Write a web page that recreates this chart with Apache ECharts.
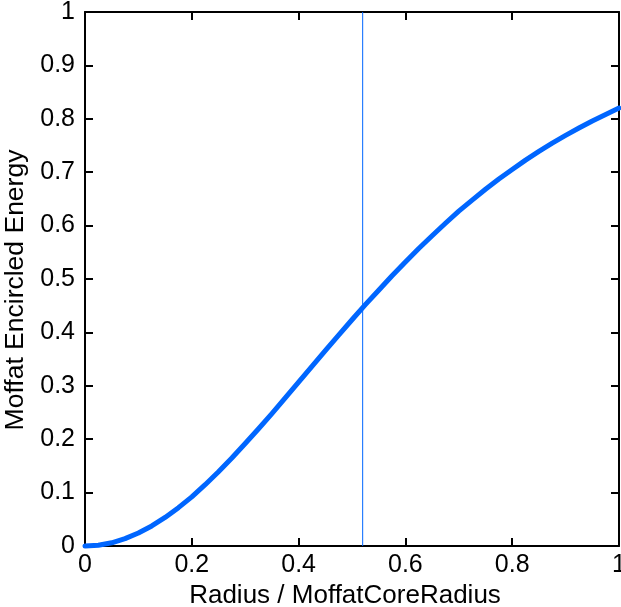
<!DOCTYPE html>
<html>
<head>
<meta charset="utf-8">
<script src="https://cdn.jsdelivr.net/npm/echarts@6/dist/echarts.min.js"></script>
<style>
  html, body { margin: 0; padding: 0; background: #fff; }
  #chart { width: 621px; height: 607px; }
</style>
</head>
<body>
<div id="chart"></div>
<script>
// radius / core radius
var radius = [0, 0.025, 0.05, 0.075, 0.1, 0.125, 0.15, 0.175, 0.2, 0.225, 0.25, 0.275,
              0.3, 0.325, 0.35, 0.375, 0.4, 0.425, 0.45, 0.475, 0.5, 0.525, 0.55, 0.575,
              0.6, 0.625, 0.65, 0.675, 0.7, 0.725, 0.75, 0.775, 0.8, 0.825, 0.85, 0.875,
              0.9, 0.925, 0.95, 0.975, 1.0];
var energy = [0, 0.0015, 0.006, 0.0138, 0.0243, 0.0376, 0.0535, 0.0718, 0.092, 0.1148, 0.139, 0.1648,
              0.192, 0.2196, 0.248, 0.2774, 0.307, 0.3364, 0.366, 0.395, 0.4237, 0.4519, 0.479, 0.5062,
              0.532, 0.5571, 0.581, 0.6044, 0.627, 0.6478, 0.668, 0.6871, 0.705, 0.7226, 0.739, 0.7544,
              0.769, 0.7828, 0.796, 0.808, 0.820];
var markerX = 0.52;     // vertical marker line
var markerSpan = [0, 1];

var fontName = 'Liberation Sans';
var blue = '#0066ff';

var curve = [];
for (var i = 0; i < radius.length; i++) {
    curve.push([radius[i], energy[i]]);
}

var chart = echarts.init(document.getElementById('chart'));

function axisBase(extra) {
    var a = {
        type: 'value',
        min: 0,
        max: 1,
        interval: 0.1,
        splitLine: {show: false},
        axisLine: {show: true, onZero: false, lineStyle: {color: '#000', width: 2}},
        axisTick: {show: true, inside: true, length: 8, lineStyle: {color: '#000', width: 2}},
        axisLabel: {show: false}
    };
    for (var k in extra) a[k] = extra[k];
    return a;
}

chart.setOption({
    animation: false,
    textStyle: {fontFamily: fontName},
    grid: {left: 85, right: 2, top: 12, bottom: 61, containLabel: false, outerBoundsMode: 'none'},
    xAxis: [
        axisBase({
            position: 'bottom',
            interval: 0.2,
            name: 'Radius / MoffatCoreRadius',
            nameLocation: 'middle',
            nameGap: 30,
            nameTextStyle: {color: '#000', fontSize: 26, fontFamily: fontName, padding: [0, 14, 0, 0]},
            axisLabel: {show: true, color: '#000', fontSize: 25, margin: 7, fontFamily: fontName}
        }),
        axisBase({position: 'top', interval: 0.2})
    ],
    yAxis: [
        axisBase({
            position: 'left',
            name: 'Moffat Encircled Energy',
            nameLocation: 'middle',
            nameGap: 45,
            nameTextStyle: {color: '#000', fontSize: 26.5, fontFamily: fontName, padding: [0, 22, 0, 0]},
            axisLabel: {show: true, color: '#000', fontSize: 25, margin: 10, fontFamily: fontName}
        }),
        axisBase({position: 'right'})
    ],
    series: [
        {
            type: 'line',
            data: curve,
            showSymbol: false,
            clip: false,
            z: 3,
            lineStyle: {color: blue, width: 5, cap: 'round', join: 'round'}
        },
        {
            type: 'line',
            data: [[markerX, markerSpan[0]], [markerX, markerSpan[1]]],
            showSymbol: false,
            silent: true,
            z: 2,
            lineStyle: {color: blue, width: 1}
        }
    ]
});
</script>
</body>
</html>
